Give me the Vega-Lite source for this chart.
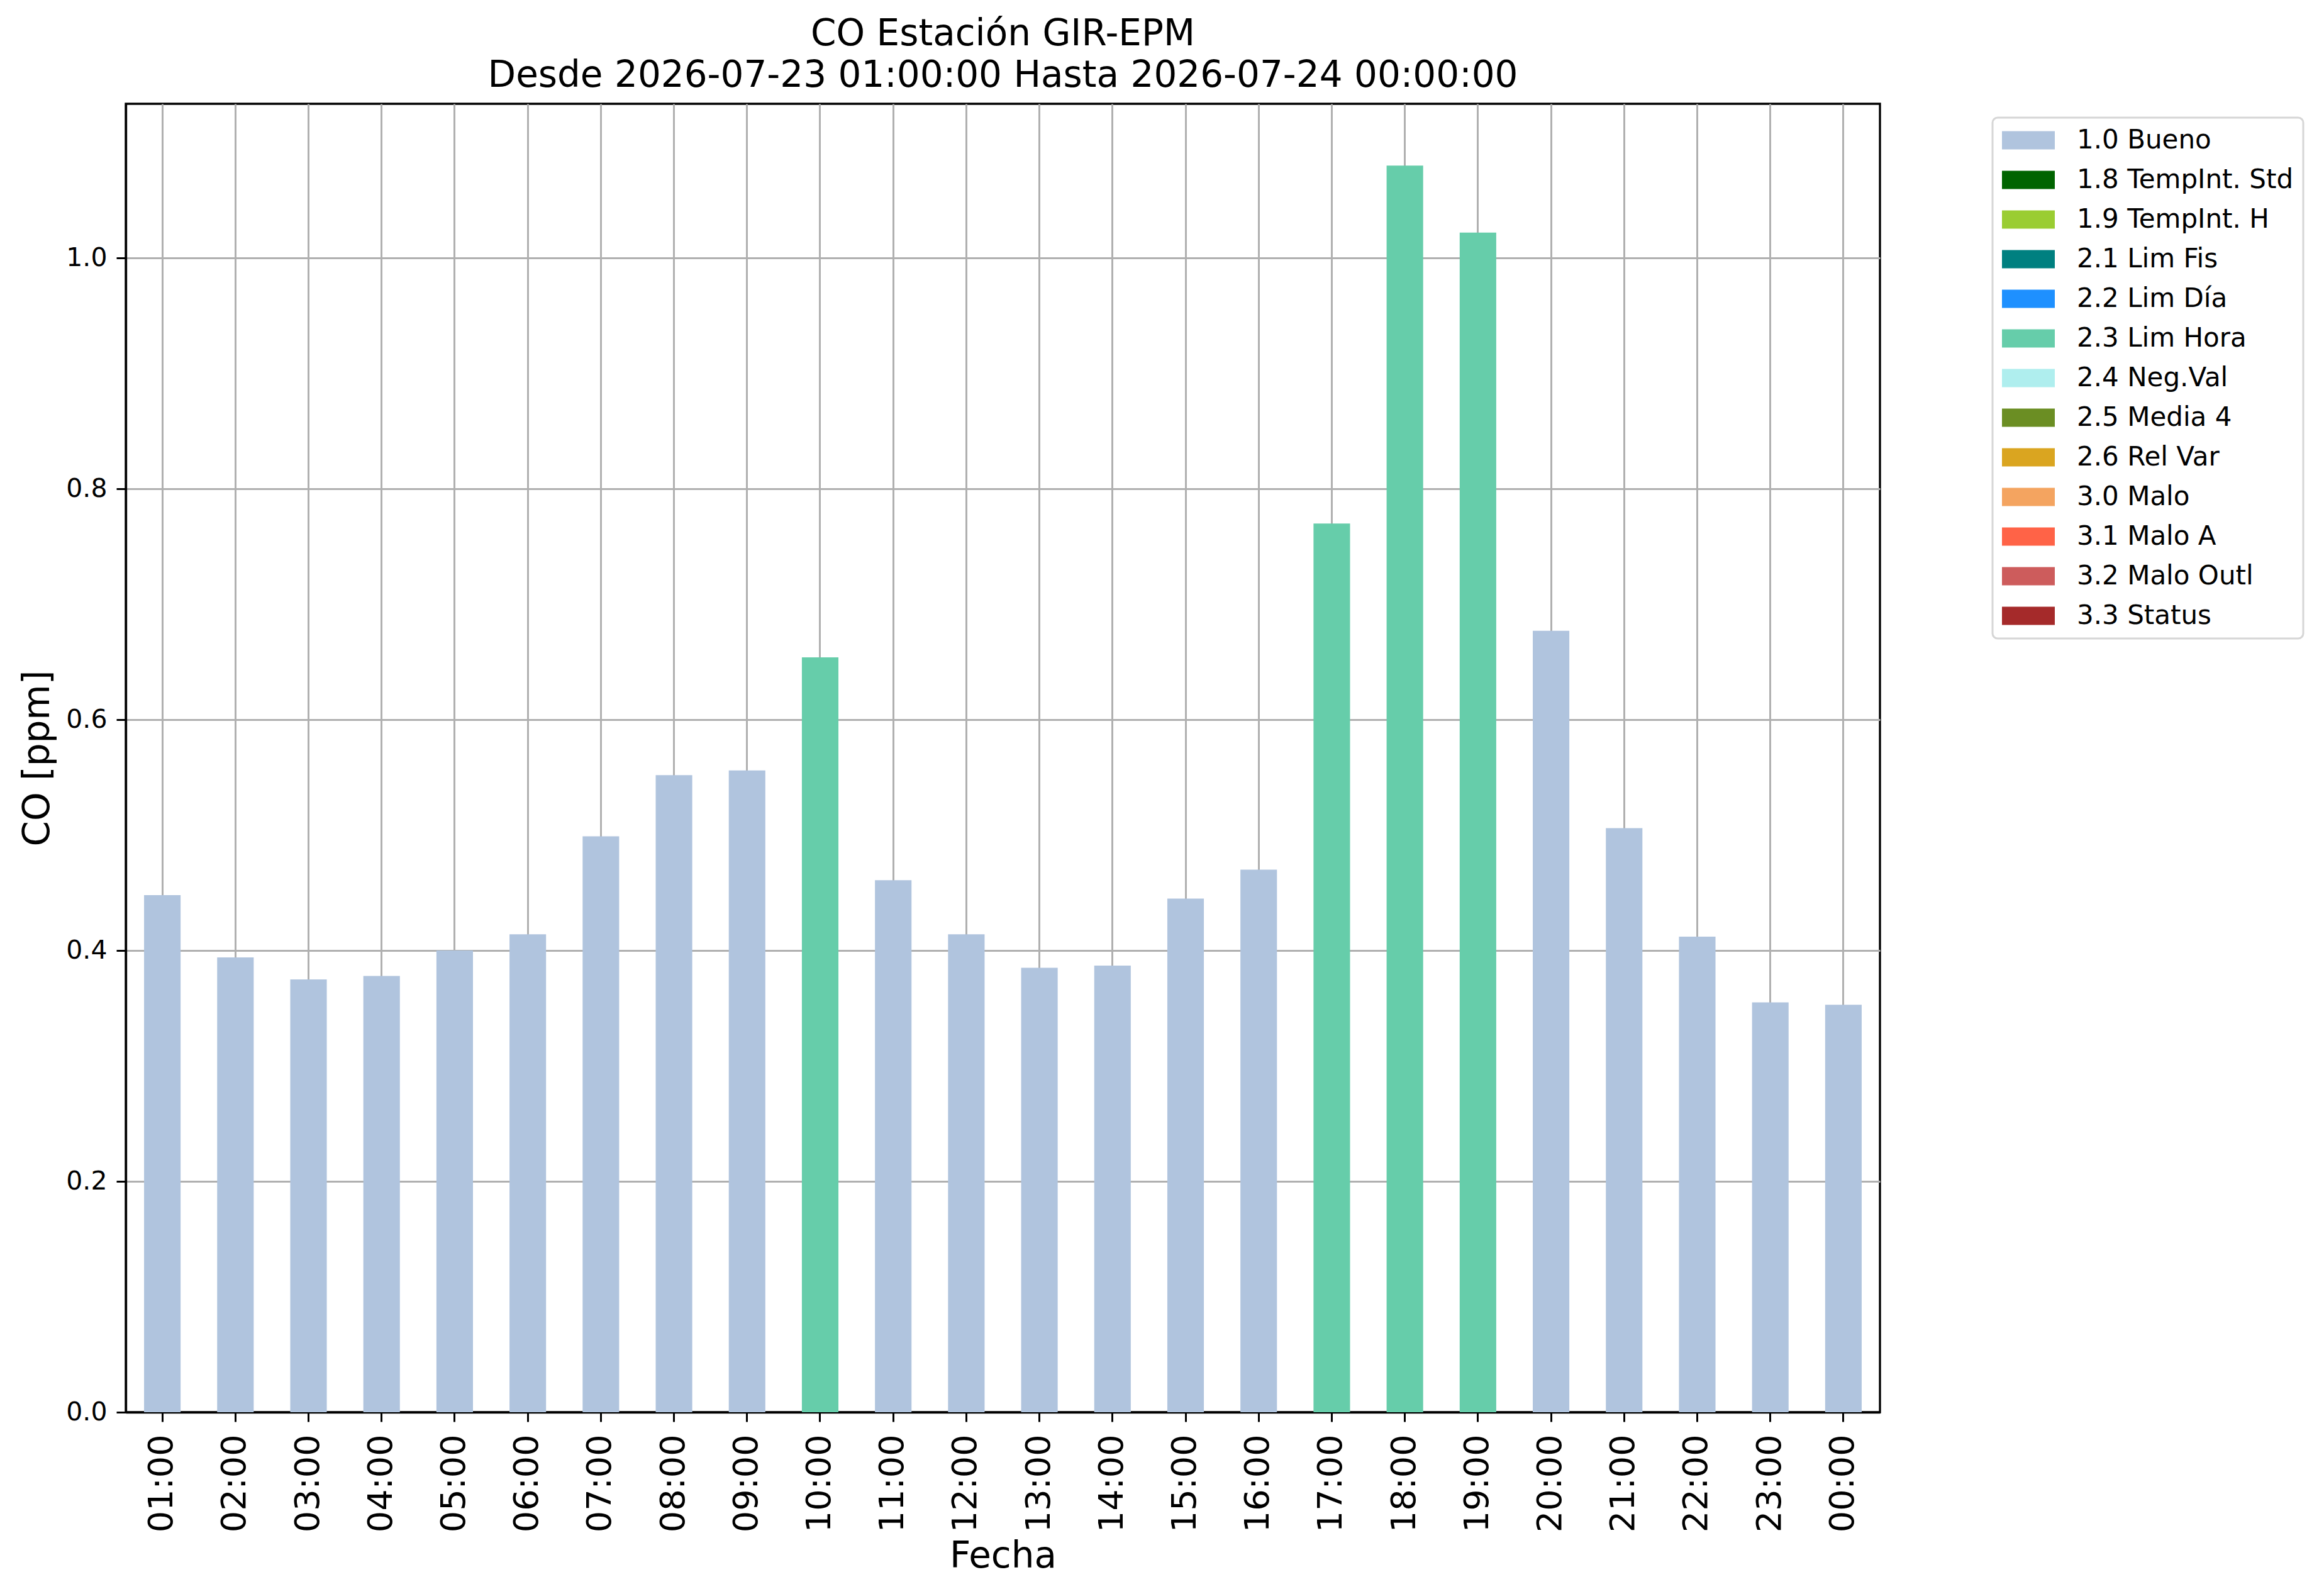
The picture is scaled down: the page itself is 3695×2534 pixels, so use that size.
{
  "$schema": "https://vega.github.io/schema/vega-lite/v6.json",
  "width": 2789,
  "height": 2080,
  "autosize": {"type": "none"},
  "padding": {"left": 200, "top": 165, "right": 706, "bottom": 289},
  "background": "white",
  "title": {
    "text": ["CO Estación GIR-EPM", "Desde 2026-07-23 01:00:00 Hasta 2026-07-24 00:00:00"],
    "font": "DejaVu Sans",
    "fontSize": 58,
    "fontWeight": "normal",
    "lineHeight": 66,
    "anchor": "middle",
    "frame": "group",
    "baseline": "bottom",
    "offset": -43,
    "color": "black"
  },
  "data": {
    "values": [
      {"hora": "01:00", "co": 0.448, "estado": "1.0 Bueno"},
      {"hora": "02:00", "co": 0.394, "estado": "1.0 Bueno"},
      {"hora": "03:00", "co": 0.375, "estado": "1.0 Bueno"},
      {"hora": "04:00", "co": 0.378, "estado": "1.0 Bueno"},
      {"hora": "05:00", "co": 0.400, "estado": "1.0 Bueno"},
      {"hora": "06:00", "co": 0.414, "estado": "1.0 Bueno"},
      {"hora": "07:00", "co": 0.499, "estado": "1.0 Bueno"},
      {"hora": "08:00", "co": 0.552, "estado": "1.0 Bueno"},
      {"hora": "09:00", "co": 0.556, "estado": "1.0 Bueno"},
      {"hora": "10:00", "co": 0.654, "estado": "2.3 Lim Hora"},
      {"hora": "11:00", "co": 0.461, "estado": "1.0 Bueno"},
      {"hora": "12:00", "co": 0.414, "estado": "1.0 Bueno"},
      {"hora": "13:00", "co": 0.385, "estado": "1.0 Bueno"},
      {"hora": "14:00", "co": 0.387, "estado": "1.0 Bueno"},
      {"hora": "15:00", "co": 0.445, "estado": "1.0 Bueno"},
      {"hora": "16:00", "co": 0.470, "estado": "1.0 Bueno"},
      {"hora": "17:00", "co": 0.770, "estado": "2.3 Lim Hora"},
      {"hora": "18:00", "co": 1.080, "estado": "2.3 Lim Hora"},
      {"hora": "19:00", "co": 1.022, "estado": "2.3 Lim Hora"},
      {"hora": "20:00", "co": 0.677, "estado": "1.0 Bueno"},
      {"hora": "21:00", "co": 0.506, "estado": "1.0 Bueno"},
      {"hora": "22:00", "co": 0.412, "estado": "1.0 Bueno"},
      {"hora": "23:00", "co": 0.355, "estado": "1.0 Bueno"},
      {"hora": "00:00", "co": 0.353, "estado": "1.0 Bueno"}
    ]
  },
  "mark": {"type": "bar"},
  "encoding": {
    "x": {
      "field": "hora",
      "type": "nominal",
      "sort": null,
      "scale": {"paddingInner": 0.5, "paddingOuter": 0.25},
      "axis": {
        "title": "Fecha",
        "labelAngle": -90,
        "labelFontSize": 54,
        "labelPadding": 20,
        "labelOverlap": false,
        "bandPosition": 0.5,
        "titleY": 246,
        "titleBaseline": "alphabetic"
      }
    },
    "y": {
      "field": "co",
      "type": "quantitative",
      "scale": {"domain": [0, 1.1336], "nice": false},
      "axis": {
        "title": "CO [ppm]",
        "values": [0, 0.2, 0.4, 0.6, 0.8, 1.0],
        "format": ".1f",
        "labelFontSize": 41,
        "labelPadding": 15,
        "titleX": -123,
        "titleY": 1040,
        "titleAngle": -90,
        "titleAlign": "center",
        "titleBaseline": "alphabetic",
        "gridOpacity": {"condition": {"test": "datum.value === 0", "value": 0}, "value": 1}
      }
    },
    "color": {
      "field": "estado",
      "type": "nominal",
      "scale": {
        "domain": ["1.0 Bueno", "1.8 TempInt. Std", "1.9 TempInt. H", "2.1 Lim Fis", "2.2 Lim Día", "2.3 Lim Hora", "2.4 Neg.Val", "2.5 Media 4", "2.6 Rel Var", "3.0 Malo", "3.1 Malo A", "3.2 Malo Outl", "3.3 Status"],
        "range": ["#b0c4de", "#006400", "#9acd32", "#008080", "#1e90ff", "#66cdaa", "#afeeee", "#6b8e23", "#daa520", "#f4a460", "#ff6347", "#cd5c5c", "#a52a2a"]
      },
      "legend": {
        "title": null,
        "orient": "none",
        "legendX": 2968,
        "legendY": 22,
        "padding": 15,
        "fillColor": "white",
        "strokeColor": "#d6d6d6",
        "cornerRadius": 8,
        "symbolType": "M-1,-0.69L3,-0.69L3,0.69L-1,0.69Z",
        "symbolSize": 1764,
        "symbolStrokeWidth": 0,
        "symbolOpacity": 1,
        "labelFontSize": 42,
        "labelOffset": 77,
        "labelLimit": 1000,
        "rowPadding": 21
      }
    }
  },
  "config": {
    "font": "DejaVu Sans",
    "view": {"stroke": "black", "strokeWidth": 3.3},
    "axis": {
      "zindex": 1,
      "grid": true,
      "gridColor": "#b0b0b0",
      "gridWidth": 3,
      "domainColor": "black",
      "domainWidth": 3.3,
      "tickColor": "black",
      "tickWidth": 3,
      "tickSize": 15,
      "labelColor": "black",
      "labelFont": "DejaVu Sans",
      "titleFont": "DejaVu Sans",
      "titleFontSize": 58,
      "titleFontWeight": "normal",
      "titleColor": "black"
    },
    "legend": {"labelFont": "DejaVu Sans", "labelColor": "black", "strokeWidth": 3}
  }
}
